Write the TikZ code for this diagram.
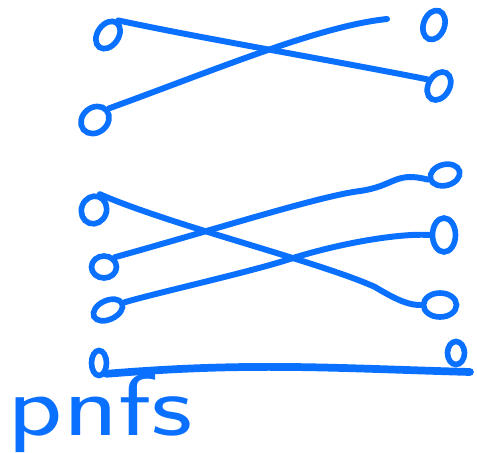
\documentclass[tikz,border=0pt]{standalone}
\usepackage{tikz}
\usetikzlibrary{shapes.geometric}
\definecolor{ink}{RGB}{10,112,255}

\begin{document}
\begin{tikzpicture}[x=0.02cm,y=-0.02cm,
  knot/.style={draw=ink,ellipse,line width=3.2pt,inner sep=0pt,minimum width=0.42cm,minimum height=0.6cm},
  strand/.style={draw=ink,line width=3.4pt,line cap=round}]
\useasboundingbox (0,0) rectangle (477,453);
% top pair
\node[knot,rotate=-35] (a1) at (108,35) {};
\node[knot,rotate=-50,minimum width=0.5cm] (a2) at (95,120) {};
\node[knot,rotate=-20] (b1) at (434,25) {};
\node[knot,rotate=-30] (b2) at (439,86) {};
\coordinate (t1) at (387,19);
% middle three
\node[knot,rotate=-20,minimum width=0.5cm,minimum height=0.56cm] (c1) at (94,210) {};
\node[knot,minimum width=0.5cm,minimum height=0.44cm] (c2) at (104,267) {};
\node[knot,rotate=25,minimum width=0.62cm,minimum height=0.38cm] (c3) at (108,310) {};
\node[knot,rotate=15,minimum width=0.6cm,minimum height=0.42cm] (d1) at (445,175) {};
\node[knot,minimum width=0.46cm,minimum height=0.68cm] (d2) at (444,235) {};
\node[knot,minimum width=0.66cm,minimum height=0.48cm] (d3) at (440,305) {};
% bottom
\node[knot,minimum width=0.3cm,minimum height=0.5cm] (e1) at (99,363) {};
\node[knot,minimum width=0.34cm,minimum height=0.46cm] (e2) at (456,353) {};
\coordinate (t2) at (470,372);
\node[ink,inner sep=0pt,font=\sffamily\fontsize{50}{50}\selectfont] (lbl) at (100,413) {\scalebox{1.3}[1]{pnfs}};
\draw[strand] (a1.north) .. controls (200,38) and (330,60) .. (b2.west);
\draw[strand] (a2.north) .. controls (220,68) and (320,26) .. (t1);
\draw[strand] (c1.north) .. controls (170,225) and (320,262) .. (375,287) .. controls (400,302) and (410,305) .. (d3.west);
\draw[strand] (c2.north east) .. controls (220,228) and (320,196) .. (360,191) .. controls (395,186) and (395,171) .. (d1.west);
\draw[strand] (c3.east) .. controls (160,292) and (250,272) .. (290,259) .. controls (340,243) and (400,233) .. (d2.west);
\draw[strand,line width=4.4pt] (e1.south east) .. controls (250,362) and (330,368) .. (t2);
\end{tikzpicture}
\end{document}
